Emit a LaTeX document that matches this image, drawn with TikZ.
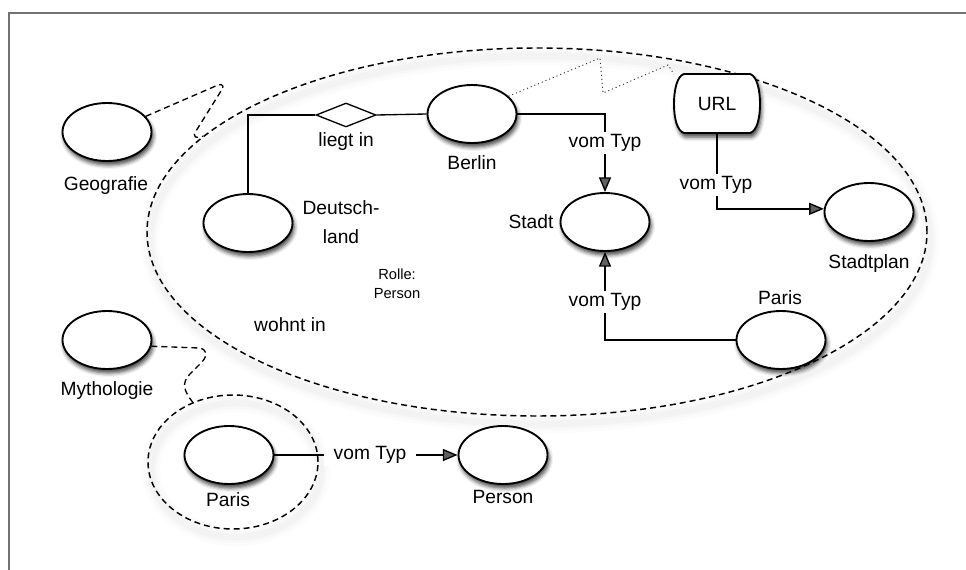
\documentclass[tikz,border=0pt]{standalone}
\usepackage{fontspec}
\setmainfont{Liberation Sans}
\usetikzlibrary{shapes.geometric,arrows.meta,shadows.blur}

\begin{document}
\begin{tikzpicture}[x=0.75pt,y=-0.75pt,
  entity/.style={ellipse, draw, line width=1.4pt, fill=white,
    minimum width=66.75pt, minimum height=43.5pt, inner sep=0pt,
    blur shadow={shadow xshift=1.2pt, shadow yshift=-3pt,
      shadow blur radius=3pt, shadow opacity=75}},
  lbl/.style={font=\fontsize{14.4}{17}\selectfont, inner sep=1pt},
  edgelbl/.style={lbl, fill=white, inner xsep=5pt, inner ysep=1.5pt},
  small/.style={font=\fontsize{11}{14}\selectfont, align=center, inner sep=0pt},
  conn/.style={line width=1pt},
  arr/.style={conn, -{Triangle[length=11pt,width=9pt]}},
  grouping/.style={ellipse, draw, line width=1.1pt,
    dash pattern=on 4.5pt off 3pt, inner sep=0pt},
  halo/.style={black, line cap=round},
  link/.style={line width=1pt, dash pattern=on 4.5pt off 3pt},
  hint/.style={line width=0.7pt, black!80, dash pattern=on 0.8pt off 2.2pt},
]
\useasboundingbox (0,0) rectangle (966,570);

% frame
\draw[black!55, line width=1.1pt] (9,570) -- (9,13) -- (966,13);

% soft halos under the dashed groupings
\foreach \w/\o in {14pt/0.012, 9pt/0.015, 5pt/0.018}{
  \draw[halo, line width=\w, opacity=\o]
    (540,240) ellipse [x radius=292.5pt, y radius=138pt];
  \draw[halo, line width=\w, opacity=\o]
    (236,470) ellipse [x radius=63.75pt, y radius=50.25pt];
}

% groupings
\node[grouping, minimum width=585pt, minimum height=276pt] (big) at (537,232) {};
\node[grouping, minimum width=127.5pt, minimum height=100.5pt] (grp) at (233,462) {};

% topics
\node[entity] (geo) at (107,132) {};
\node[lbl] (geol) at (106,186) {Geografie};
\node[entity] (myth) at (107,340) {};
\node[lbl] (mythl) at (107,391) {Mythologie};

% scope links
\draw[link] (geo.22) -- (218,85) .. controls (224,83) and (224,88) .. (221,91)
  -- (196,131) .. controls (192,137) and (196,139) .. (big.164);
\draw[link] (myth.-8) -- (199,348) .. controls (207,349) and (208,355) .. (202,362)
  -- (190,374) .. controls (181,383) and (184,391) .. (grp.124);

% topics inside the large scope
\node[entity] (de) at (248,223) {};
\node[lbl, align=center, font=\fontsize{14.4}{22}\selectfont] (del) at (341,222) {Deutsch-\\land};
\node[diamond, draw, line width=1pt, fill=white, minimum width=45pt,
  minimum height=18pt, inner sep=0pt, aspect=2.6] (dia) at (346,115) {};
\node[lbl] (dial) at (346,142) {liegt in};
\node[entity] (berlin) at (472,114) {};
\node[lbl] (berlinl) at (472,163) {Berlin};
\node[entity] (stadt) at (605,222) {};
\node[lbl] (stadtl) at (531,222) {Stadt};
\node[entity] (plan) at (869,212) {};
\node[lbl] (planl) at (869,264) {Stadtplan};
\node[entity] (paris) at (781,340) {};
\node[lbl] (parisl) at (780,298) {Paris};

% occurrence box
\path[draw, line width=1.4pt, fill=white,
  blur shadow={shadow xshift=1.2pt, shadow yshift=-3pt,
    shadow blur radius=3pt, shadow opacity=75}]
  (684,74) -- (750,74) .. controls (757,76) and (760,90) .. (760,104)
  .. controls (760,118) and (757,131) .. (750,133) -- (684,133)
  .. controls (677,131) and (674,118) .. (674,104)
  .. controls (674,90) and (677,76) .. (684,74) -- cycle;
\node[lbl, minimum width=64pt, minimum height=44.25pt] (url) at (717,104) {URL};

% associations
\draw[conn] (de.north) |- (dia.west);
\draw[conn] (dia.east) -- (berlin.west);
\draw[arr] (berlin.east) -| (stadt.north);
\node[edgelbl] (t1) at (605,143) {vom Typ};
\draw[arr] (url.south) |- (plan.176);
\node[edgelbl] (t2) at (716,185) {vom Typ};
\draw[arr] (paris.west) -| (stadt.south);
\node[edgelbl] (t3) at (605,302) {vom Typ};

% reification hint
\draw[hint] (berlin.26) -- (600,58) -- (603,93) -- (668,65) -- (url.north west);

\node[small] (rolle) at (397,284) {Rolle:\\Person};
\node[lbl] (wohnt) at (290,325) {wohnt in};

% topics in the small scope
\node[entity] (paris2) at (229,455) {};
\node[lbl] (paris2l) at (228,500) {Paris};
\node[entity] (person) at (503,455) {};
\node[lbl] (personl) at (503,497) {Person};
\draw[arr] (paris2.east) -- (person.west);
\node[edgelbl, inner xsep=7pt] (t4) at (370,455) {vom Typ};
\end{tikzpicture}
\end{document}
